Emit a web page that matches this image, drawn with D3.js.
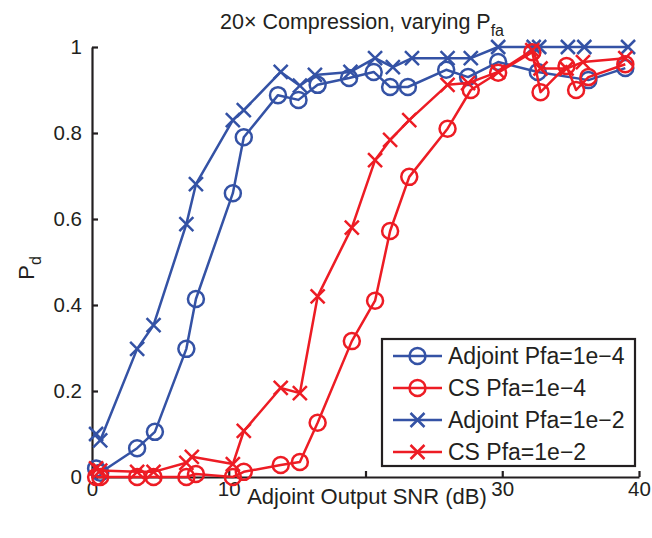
<!DOCTYPE html>
<html><head><meta charset="utf-8">
<script src="https://cdn.jsdelivr.net/npm/d3@7/dist/d3.min.js"></script>
<style>body{margin:0;background:#fff;} svg{display:block;} text{font-family:"Liberation Sans",Arial,sans-serif;fill:#231f20;}</style>
</head><body><svg id="c" width="652" height="538"></svg>
<script>
const xTicks = [0, 10, 20, 30, 40];
const xTickLabels = ["0", "10", "", "30", "40"];
const yTicks = [0, 0.2, 0.4, 0.6, 0.8, 1];
const yTickLabels = ["0", "0.2", "0.4", "0.6", "0.8", "1"];
const seriesNames = ["Adjoint Pfa=1e\u22124", "CS Pfa=1e\u22124", "Adjoint Pfa=1e\u22122", "CS Pfa=1e\u22122"];

const adj4X = [0.3, 0.6, 3.3, 4.6, 6.9, 7.6, 10.3, 11.1, 13.6, 15.1, 16.5, 18.8, 20.6, 21.8, 23.1, 25.9, 27.5, 29.7, 32.6, 36.3, 39.0];
const adj4Y = [0.02, 0.01, 0.067, 0.105, 0.298, 0.414, 0.66, 0.79, 0.888, 0.877, 0.912, 0.928, 0.942, 0.907, 0.907, 0.947, 0.93, 0.965, 0.942, 0.923, 0.951];

const cs4X = [0.3, 0.6, 3.3, 4.5, 6.9, 7.6, 10.3, 11.1, 13.8, 15.2, 16.5, 19.0, 20.7, 21.8, 23.2, 26.0, 27.7, 29.7, 32.2, 32.8, 34.7, 35.4, 36.3, 39.0];
const cs4Y = [0.0, 0.0, 0.0, 0.0, 0.0, 0.007, 0.0, 0.012, 0.028, 0.035, 0.126, 0.316, 0.41, 0.572, 0.698, 0.81, 0.9, 0.94, 0.988, 0.895, 0.956, 0.9, 0.93, 0.96];

const adj2X = [0.3, 0.6, 3.3, 4.5, 6.9, 7.6, 10.3, 11.1, 13.8, 15.2, 16.3, 18.9, 20.7, 22.0, 23.4, 26.0, 27.7, 29.7, 32.3, 32.7, 34.8, 36.0, 39.2];
const adj2Y = [0.10, 0.085, 0.298, 0.353, 0.588, 0.681, 0.83, 0.853, 0.942, 0.91, 0.935, 0.942, 0.974, 0.953, 0.974, 0.974, 0.974, 1.0, 1.0, 1.0, 1.0, 1.0, 1.0];

const cs2X = [0.3, 0.6, 3.3, 4.5, 6.9, 7.3, 10.3, 11.1, 13.8, 15.2, 16.5, 19.0, 20.7, 21.8, 23.2, 26.0, 27.5, 29.7, 32.2, 32.8, 34.7, 35.9, 39.0];
const cs2Y = [0.02, 0.015, 0.012, 0.012, 0.033, 0.047, 0.03, 0.107, 0.207, 0.195, 0.42, 0.58, 0.737, 0.784, 0.83, 0.912, 0.916, 0.942, 0.993, 0.95, 0.95, 0.965, 0.974];

const BLUE = "#3452a5", RED = "#ed1c24";
const series = [
  {name: seriesNames[0], xs: adj4X, ys: adj4Y, color: BLUE, marker: "o"},
  {name: seriesNames[1], xs: cs4X, ys: cs4Y, color: RED, marker: "o"},
  {name: seriesNames[2], xs: adj2X, ys: adj2Y, color: BLUE, marker: "x"},
  {name: seriesNames[3], xs: cs2X, ys: cs2Y, color: RED, marker: "x"}
];

const svg = d3.select("#c");
const L = 92, R = 639, T = 47, B = 477;
const x = d3.scaleLinear().domain([0, 40]).range([L, R]);
const y = d3.scaleLinear().domain([0, 1]).range([B, T]);

// axes
const xAxis = d3.axisBottom(x).tickValues(xTicks).tickSizeInner(-6).tickSizeOuter(0).tickPadding(4).tickFormat((d,i)=>xTickLabels[i]);
const gx = svg.append("g").attr("transform", `translate(0,${B})`).call(xAxis);
const yAxis = d3.axisLeft(y).tickValues(yTicks).tickSizeInner(-6).tickSizeOuter(0).tickPadding(10).tickFormat((d,i)=>yTickLabels[i]);
const gy = svg.append("g").attr("transform", `translate(${L},0)`).call(yAxis);
[gx, gy].forEach(g => {
  g.select(".domain").attr("stroke", "#231f20").attr("stroke-width", 2.2);
  g.selectAll(".tick line").attr("stroke", "#231f20").attr("stroke-width", 2.2);
  g.selectAll("text").style("font-size", "20.5px").attr("fill", "#231f20");
});

// lines & markers
const line = d3.line().x(d => x(d[0])).y(d => y(d[1]));
function drawMarker(g, type, cx, cy, color) {
  if (type === "o") {
    g.append("circle").attr("cx", cx).attr("cy", cy).attr("r", 8)
      .attr("fill", "none").attr("stroke", color).attr("stroke-width", 2.5);
  } else {
    const s = 7;
    g.append("path").attr("d", `M${cx-s},${cy-s}L${cx+s},${cy+s}M${cx-s},${cy+s}L${cx+s},${cy-s}`)
      .attr("stroke", color).attr("stroke-width", 2.5).attr("fill", "none");
  }
}
const drawOrder = [0, 2, 1, 3];
drawOrder.forEach(i => {
  const s = series[i];
  const pts = s.xs.map((v, k) => [v, s.ys[k]]);
  const g = svg.append("g");
  g.append("path").attr("d", line(pts)).attr("fill", "none").attr("stroke", s.color).attr("stroke-width", 2.5).attr("stroke-linejoin", "round");
  pts.forEach(p => drawMarker(g, s.marker, x(p[0]), y(p[1]), s.color));
});

// title
const title = svg.append("text").attr("x", 362).attr("y", 29).attr("text-anchor", "middle").style("font-size", "21.5px");
title.append("tspan").text("20\u00d7 Compression, varying P");
title.append("tspan").attr("dy", 7).style("font-size", "16px").text("fa");

// x label
svg.append("text").attr("x", 367).attr("y", 504).attr("text-anchor", "middle").style("font-size", "22px").text("Adjoint Output SNR (dB)");
// y label
const yl = svg.append("text").attr("transform", "translate(34,268) rotate(-90)").attr("text-anchor", "middle").style("font-size", "22px");
yl.append("tspan").text("P");
yl.append("tspan").attr("dy", 7).style("font-size", "16px").text("d");

// legend
const lg = svg.append("g");
lg.append("rect").attr("x", 382).attr("y", 339).attr("width", 253).attr("height", 127)
  .attr("fill", "#fff").attr("stroke", "#231f20").attr("stroke-width", 2.2);
series.forEach((s, i) => {
  const cy = 356 + i * 32;
  lg.append("line").attr("x1", 393).attr("x2", 442).attr("y1", cy).attr("y2", cy).attr("stroke", s.color).attr("stroke-width", 2.5);
  drawMarker(lg, s.marker, 417.5, cy, s.color);
  lg.append("text").attr("x", 448).attr("y", cy + 8).style("font-size", "23px").text(s.name);
});
</script></body></html>
